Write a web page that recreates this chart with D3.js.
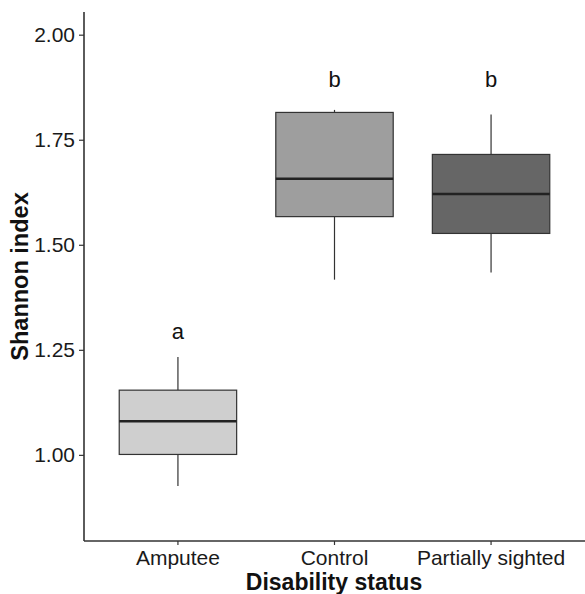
<!DOCTYPE html>
<html>
<head>
<meta charset="utf-8">
<script src="https://cdn.jsdelivr.net/npm/d3@7"></script>
<style>
  body { margin: 0; background: #fff; }
  svg text { font-family: "Liberation Sans", Arial, sans-serif; }
</style>
</head>
<body>
<svg id="chart" width="585" height="594"></svg>
<script>
'use strict';

// data
const groups = ["Amputee", "Control", "Partially sighted"];
const whiskerLow = [0.926, 1.417, 1.434];
const q1 = [1.001, 1.567, 1.527];
const median = [1.080, 1.657, 1.621];
const q3 = [1.154, 1.815, 1.715];
const whiskerHigh = [1.233, 1.821, 1.810];
const letters = ["a", "b", "b"];
const letterY = [1.293, 1.893, 1.893];
const fills = ["#cfcfcf", "#9e9e9e", "#666666"];
const yTicks = [1.00, 1.25, 1.50, 1.75, 2.00];

const margin = { left: 84, right: 0, top: 12, bottom: 53 };
const width = 585, height = 594;

const svg = d3.select("#chart");

const x = d3.scaleBand()
  .domain(groups)
  .range([margin.left, width - margin.right])
  .paddingOuter(0.1)
  .paddingInner(0);

// boxes take 75% of each slot, as in ggplot
const boxW = x.bandwidth() * 0.75;

const y = d3.scaleLinear()
  .domain([0.795, 2.054])
  .range([height - margin.bottom, margin.top]);

const boxes = groups.map((g, i) => ({
  g, lo: whiskerLow[i], q1: q1[i], med: median[i], q3: q3[i], hi: whiskerHigh[i],
  fill: fills[i], letter: letters[i], ly: letterY[i]
}));

const cx = d => x(d.g) + x.bandwidth() / 2;

const box = svg.append("g").selectAll("g")
  .data(boxes)
  .enter()
  .append("g");

box.append("line")
  .attr("x1", cx).attr("x2", cx)
  .attr("y1", d => y(d.hi)).attr("y2", d => y(d.q3))
  .attr("stroke", "#333").attr("stroke-width", 1.2);

box.append("line")
  .attr("x1", cx).attr("x2", cx)
  .attr("y1", d => y(d.q1)).attr("y2", d => y(d.lo))
  .attr("stroke", "#333").attr("stroke-width", 1.2);

box.append("rect")
  .attr("x", d => cx(d) - boxW / 2)
  .attr("width", boxW)
  .attr("y", d => y(d.q3))
  .attr("height", d => y(d.q1) - y(d.q3))
  .attr("fill", d => d.fill)
  .attr("stroke", "#333")
  .attr("stroke-width", 1.2);

box.append("line")
  .attr("x1", d => cx(d) - boxW / 2).attr("x2", d => cx(d) + boxW / 2)
  .attr("y1", d => y(d.med)).attr("y2", d => y(d.med))
  .attr("stroke", "#222").attr("stroke-width", 2.4);

box.append("text")
  .attr("x", cx)
  .attr("y", d => y(d.ly))
  .attr("dy", "0.35em")
  .attr("text-anchor", "middle")
  .style("font-size", "22px")
  .attr("fill", "#111")
  .text(d => d.letter);

// axes
const yAxis = svg.append("g")
  .attr("transform", `translate(${margin.left},0)`)
  .call(d3.axisLeft(y).tickValues(yTicks).tickFormat(d3.format(".2f")).tickSize(5).tickPadding(4));

const xAxis = svg.append("g")
  .attr("transform", `translate(0,${height - margin.bottom})`)
  .call(d3.axisBottom(x).tickSize(4).tickPadding(5));

[yAxis, xAxis].forEach(a => {
  a.select(".domain").attr("stroke", "#333").attr("stroke-width", 1.6);
  a.selectAll(".tick line").attr("stroke", "#333").attr("stroke-width", 1.2);
  a.selectAll(".tick text").attr("fill", "#1a1a1a").style("font-size", "21px");
});

// the domain path from d3 adds outer ticks; redraw plain lines instead
yAxis.select(".domain").attr("d", `M0,${y.range()[0]}V${y.range()[1]}`);
xAxis.select(".domain").attr("d", `M${margin.left},0H${width}`);

svg.append("text")
  .attr("transform", `translate(28,${(margin.top + height - margin.bottom) / 2}) rotate(-90)`)
  .attr("text-anchor", "middle")
  .style("font-size", "23.5px")
  .style("font-weight", "bold")
  .attr("fill", "#111")
  .text("Shannon index");

svg.append("text")
  .attr("x", 334)
  .attr("y", 590)
  .attr("text-anchor", "middle")
  .style("font-size", "23px")
  .style("font-weight", "bold")
  .attr("fill", "#111")
  .text("Disability status");
</script>
</body>
</html>
